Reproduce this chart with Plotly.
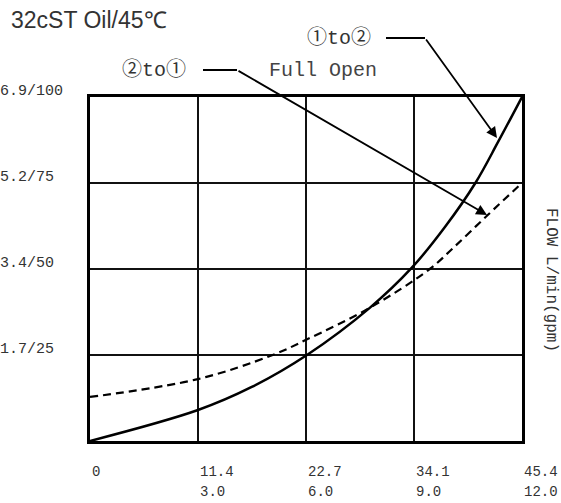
import plotly.graph_objects as go

# ---- data ----
# ①to② (solid): flow L/min vs pressure psi
solid_flow = [0, 11.35, 17.0, 22.8, 29.4, 33.8, 37.3, 40.5, 42.9, 45.4]
solid_psi = [0, 9.0, 15.7, 25.0, 38.7, 50.3, 62.2, 75.0, 87.0, 100]
# ②to① (dashed)
dashed_flow = [0, 11.35, 19.2, 22.7, 29.4, 35.7, 38.2, 41.8, 45.4]
dashed_psi = [12.8, 18.0, 25.0, 29.4, 38.7, 50.0, 56.2, 65.7, 75.0]

x_tick_vals = [0, 11.35, 22.7, 34.05, 45.4]
x_lpm_labels = ["0", "11.4", "22.7", "34.1", "45.4"]
x_gpm_labels = ["", "3.0", "6.0", "9.0", "12.0"]
y_tick_vals = [25, 50, 75, 100]
y_tick_labels = ["1.7/25", "3.4/50", "5.2/75", "6.9/100"]

W, H = 561, 503
L, R, T, B = 90, 522, 97, 441
pw, ph = R - L, B - T


def px(x):
    return (x - L) / pw


def py(y):
    return (B - y) / ph


mono = "Liberation Mono, Noto Sans CJK SC, monospace"
txt = "#333333"

fig = go.Figure()
fig.add_trace(go.Scatter(x=dashed_flow, y=dashed_psi, mode="lines",
                         line=dict(color="black", width=2.2, dash="8px,5px", shape="spline"),
                         hoverinfo="skip", showlegend=False))
fig.add_trace(go.Scatter(x=solid_flow, y=solid_psi, mode="lines",
                         line=dict(color="black", width=2.5, shape="spline"),
                         hoverinfo="skip", showlegend=False))

ann = []
# title
ann.append(dict(text="32cST Oil/45℃", xref="paper", yref="paper", x=px(9), y=py(20),
                xanchor="left", yanchor="middle", showarrow=False,
                font=dict(family="Liberation Sans, Arial", size=23, color=txt)))
# x tick labels (two rows)
for v, a, b in zip(x_tick_vals, x_lpm_labels, x_gpm_labels):
    ann.append(dict(text=a, xref="x", yref="paper", x=v, y=py(472), xanchor="left",
                    yanchor="middle", showarrow=False, xshift=0,
                    font=dict(family=mono, size=14, color=txt)))
    if b:
        ann.append(dict(text=b, xref="x", yref="paper", x=v, y=py(492), xanchor="left",
                        yanchor="middle", showarrow=False, xshift=0,
                        font=dict(family=mono, size=14, color=txt)))
# y tick labels
for v, lab in zip(y_tick_vals, y_tick_labels):
    ann.append(dict(text=lab, xref="paper", yref="y", x=px(-2), y=v, xanchor="left",
                    yanchor="middle", yshift=6, showarrow=False,
                    font=dict(family=mono, size=15, color=txt)))
# right axis title
ann.append(dict(text="FLOW L/min(gpm)", xref="paper", yref="paper", x=px(551), y=py(280),
                textangle=90, showarrow=False, xanchor="center", yanchor="middle",
                font=dict(family=mono, size=16, color=txt)))
# curve labels
ann.append(dict(text="①to②", xref="paper", yref="paper", x=px(339), y=py(38),
                showarrow=False, xanchor="center", yanchor="middle",
                font=dict(family=mono, size=20, color=txt)))
ann.append(dict(text="②to①", xref="paper", yref="paper", x=px(154), y=py(70),
                showarrow=False, xanchor="center", yanchor="middle",
                font=dict(family=mono, size=20, color=txt)))
ann.append(dict(text="Full Open", xref="paper", yref="paper", x=px(323), y=py(70),
                showarrow=False, xanchor="center", yanchor="middle",
                font=dict(family=mono, size=20, color="#444444")))
# leader arrows
ann.append(dict(text="", xref="paper", yref="paper", x=px(497), y=py(138),
                ax=425 - 497, ay=38 - 138, showarrow=True, arrowhead=2, arrowsize=1.2,
                arrowwidth=1.8, arrowcolor="black", standoff=0, startstandoff=0))
ann.append(dict(text="", xref="paper", yref="paper", x=px(487), y=py(215),
                ax=237 - 487, ay=70 - 215, showarrow=True, arrowhead=2, arrowsize=1.2,
                arrowwidth=1.8, arrowcolor="black", standoff=0, startstandoff=0))

shapes = [
    dict(type="line", xref="paper", yref="paper", x0=px(386), x1=px(425), y0=py(38), y1=py(38),
         line=dict(color="black", width=1.8)),
    dict(type="line", xref="paper", yref="paper", x0=px(203), x1=px(237), y0=py(70), y1=py(70),
         line=dict(color="black", width=1.8)),
]

fig.update_layout(
    width=W, height=H,
    margin=dict(l=L, r=W - R, t=T, b=H - B, pad=0),
    paper_bgcolor="white", plot_bgcolor="white",
    annotations=ann, shapes=shapes, showlegend=False,
    xaxis=dict(range=[0, 45.4], tick0=0, dtick=11.35, showgrid=True, gridcolor="#111111",
               gridwidth=2, showticklabels=False, ticks="", zeroline=False,
               showline=True, mirror=True, linecolor="black", linewidth=3, fixedrange=True),
    yaxis=dict(range=[0, 100], tick0=0, dtick=25, showgrid=True, gridcolor="#111111",
               gridwidth=2, showticklabels=False, ticks="", zeroline=False,
               showline=True, mirror=True, linecolor="black", linewidth=3, fixedrange=True),
)

fig.write_html("out.html", config={"displayModeBar": False},
               post_script="document.body.style.margin='0';document.body.style.overflow='hidden';")
